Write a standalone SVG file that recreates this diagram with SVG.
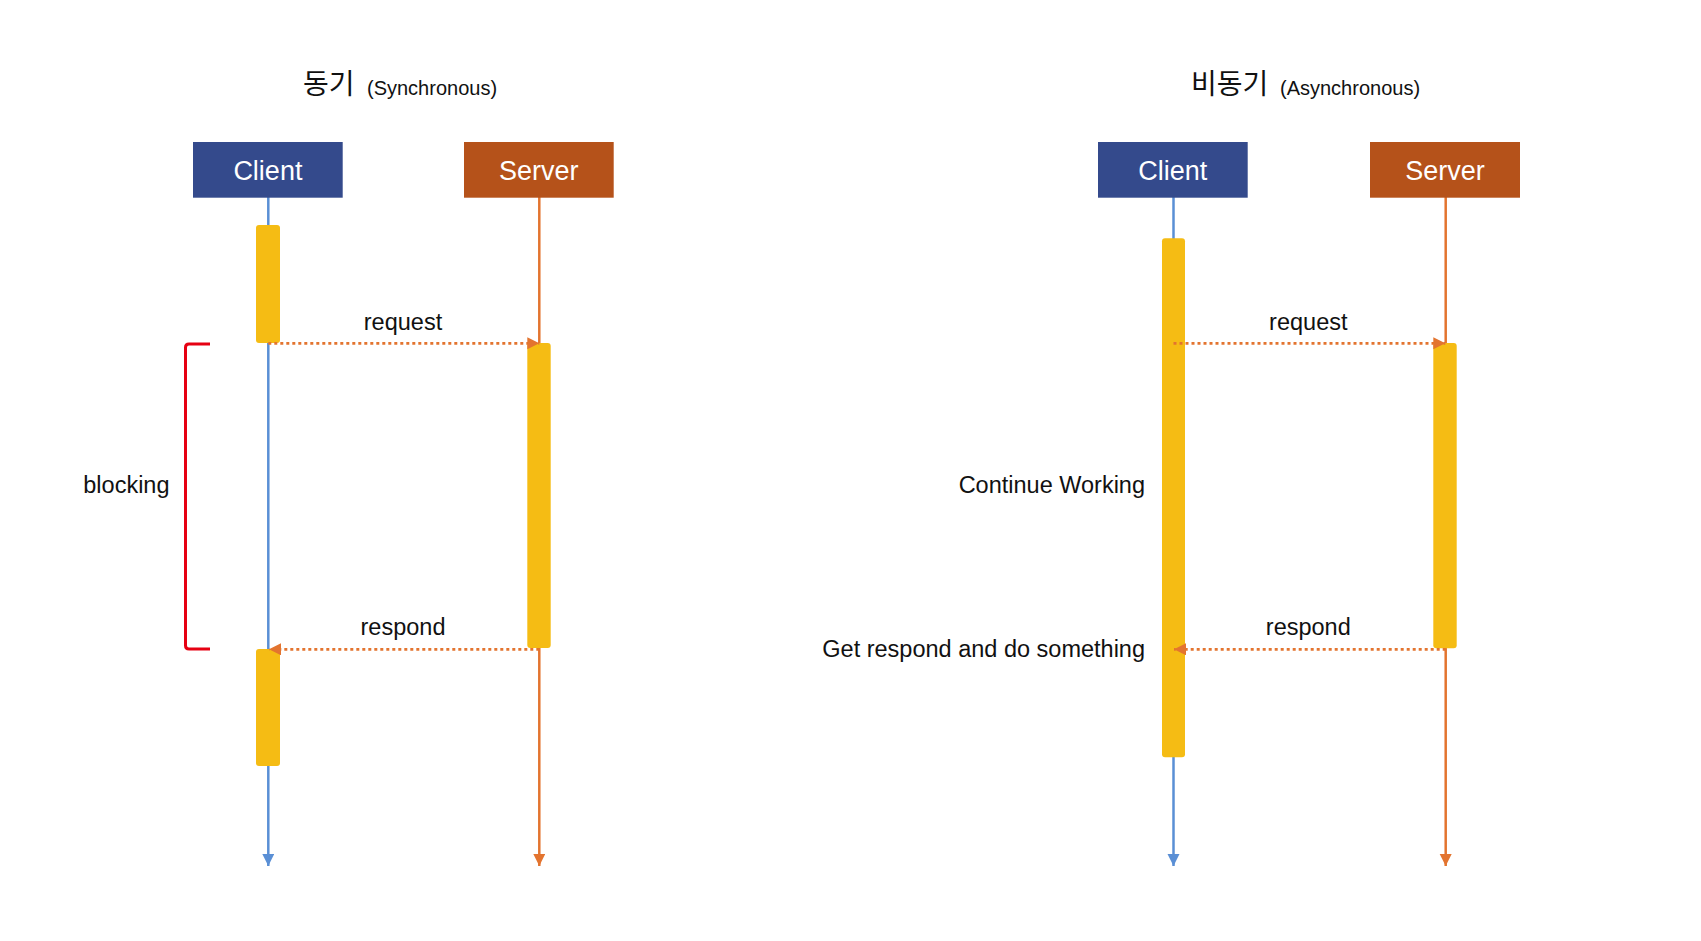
<svg xmlns="http://www.w3.org/2000/svg" width="1701" height="941" viewBox="0 0 1701 941">
<style>
  .bg{fill:#ffffff}
  .box-c{fill:#344A8C}
  .box-s{fill:#B5521A}
  .boxtxt{font-family:"Liberation Sans",Arial,sans-serif;font-size:27px;fill:#ffffff;text-anchor:middle}
  .title-k{font-family:"Noto Sans CJK KR","Noto Sans CJK SC",sans-serif;font-size:28px;fill:#111111}
  .title-e{font-family:"Liberation Sans",Arial,sans-serif;font-size:20px;fill:#111111}
  .lbl{font-family:"Liberation Sans",Arial,sans-serif;font-size:23.5px;fill:#111111}
  .mid{text-anchor:middle}
  .end{text-anchor:end}
  .life-c{stroke:#5A8FD5;stroke-width:2.5;fill:none}
  .life-s{stroke:#E3742F;stroke-width:2.5;fill:none}
  .act{fill:#F5BC14}
  .msg{stroke:#E3742F;stroke-width:2.7;stroke-dasharray:3 3;fill:none}
  .brace{stroke:#E60012;stroke-width:3;fill:none}
</style>
<defs>
  <marker id="arrB" markerUnits="userSpaceOnUse" markerWidth="13" markerHeight="13" refX="12" refY="6" orient="auto">
    <path d="M0,0 L12,6 L0,12 z" fill="#5A8FD5"/>
  </marker>
  <marker id="arrO" markerUnits="userSpaceOnUse" markerWidth="13" markerHeight="13" refX="12" refY="6" orient="auto">
    <path d="M0,0 L12,6 L0,12 z" fill="#E3742F"/>
  </marker>
</defs>
<rect class="bg" x="0" y="0" width="1701" height="941"/>

<!-- Titles -->
<g id="title-sync">
  <text class="title-k" x="303" y="94">동기</text>
  <text class="title-e" x="367" y="95">(Synchronous)</text>
</g>
<g id="title-async">
  <text class="title-k" x="1191" y="94">비동기</text>
  <text class="title-e" x="1280" y="95">(Asynchronous)</text>
</g>

<!-- Lifelines and connectors -->
<g id="connectors">
  <line class="life-c" x1="268.3" y1="197" x2="268.3" y2="866" marker-end="url(#arrB)"/>
  <line class="life-s" x1="539.3" y1="197" x2="539.3" y2="866" marker-end="url(#arrO)"/>
  <line class="life-c" x1="1173.5" y1="197" x2="1173.5" y2="866" marker-end="url(#arrB)"/>
  <line class="life-s" x1="1445.7" y1="197" x2="1445.7" y2="866" marker-end="url(#arrO)"/>
</g>

<!-- Activation bars -->
<g id="activations">
  <rect class="act" x="256" y="225" width="24" height="118" rx="3"/>
  <rect class="act" x="527.3" y="343" width="23.4" height="305" rx="3"/>
  <rect class="act" x="256" y="649" width="24" height="117" rx="3"/>
  <rect class="act" x="1162" y="238.3" width="23" height="519" rx="3"/>
  <rect class="act" x="1433.3" y="343" width="23.4" height="305.3" rx="3"/>
</g>

<!-- Messages -->
<g id="messages">
  <line class="msg" x1="268.3" y1="343.3" x2="539.3" y2="343.3" marker-end="url(#arrO)"/>
  <line class="msg" x1="539.3" y1="649.3" x2="269" y2="649.3" marker-end="url(#arrO)"/>
  <line class="msg" x1="1173.5" y1="343.3" x2="1445.3" y2="343.3" marker-end="url(#arrO)"/>
  <line class="msg" x1="1445.7" y1="649.3" x2="1174" y2="649.3" marker-end="url(#arrO)"/>
</g>

<!-- Blocking bracket -->
<g id="blocking-bracket">
  <path class="brace" d="M210,344 L189,344 Q185.5,344 185.5,347.5 L185.5,645.5 Q185.5,649 189,649 L210,649"/>
  <text class="lbl end" x="169.5" y="493">blocking</text>
</g>

<!-- Nodes -->
<g id="sync-client">
  <rect class="box-c" x="193" y="142" width="149.7" height="55.7"/>
  <text class="boxtxt" x="267.9" y="180">Client</text>
</g>
<g id="sync-server">
  <rect class="box-s" x="464" y="142" width="149.7" height="55.7"/>
  <text class="boxtxt" x="538.8" y="180">Server</text>
</g>
<g id="async-client">
  <rect class="box-c" x="1098" y="142" width="149.7" height="55.7"/>
  <text class="boxtxt" x="1172.8" y="180">Client</text>
</g>
<g id="async-server">
  <rect class="box-s" x="1370" y="142" width="150" height="55.7"/>
  <text class="boxtxt" x="1445" y="180">Server</text>
</g>

<!-- Labels -->
<g id="labels">
  <text class="lbl mid" x="403" y="330">request</text>
  <text class="lbl mid" x="403" y="635">respond</text>
  <text class="lbl mid" x="1308.3" y="330">request</text>
  <text class="lbl mid" x="1308.3" y="635">respond</text>
  <text class="lbl end" x="1145" y="493">Continue Working</text>
  <text class="lbl end" x="1145" y="657">Get respond and do something</text>
</g>
</svg>
